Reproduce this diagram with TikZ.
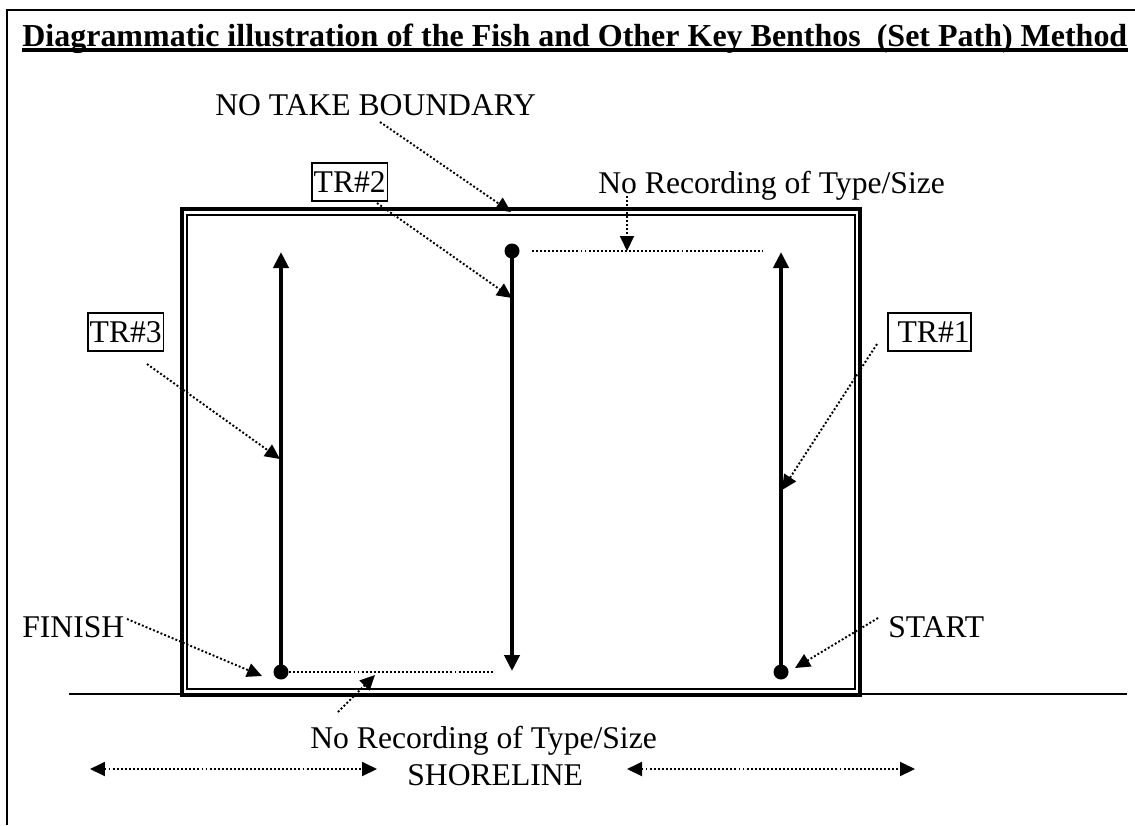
\documentclass[tikz,border=0pt]{standalone}
\usepackage{fontspec}
\setmainfont{Liberation Serif}
\usetikzlibrary{arrows.meta}

\begin{document}
\begin{tikzpicture}[x=0.02cm, y=-0.02cm, every node/.style={font=\fontsize{18}{21}\selectfont, inner sep=0pt}]
        \tikzstyle{lead} = [line width=1.1pt, dash pattern=on 1.1pt off 1.2pt, -{Triangle[length=0.3cm, width=0.28cm]}]
        \tikzstyle{span} = [line width=1.1pt, dash pattern=on 1.1pt off 1.2pt, {Triangle[length=0.3cm, width=0.28cm]}-{Triangle[length=0.3cm, width=0.28cm]}]
        \tikzstyle{gap} = [line width=1.1pt, dash pattern=on 1.1pt off 1.2pt]
        \tikzstyle{track} = [line width=2.3pt, -{Triangle[length=0.32cm, width=0.3cm]}]
        \tikzstyle{tag} = [draw, line width=1.1pt, inner sep=1pt, minimum height=0.76cm]
        \tikzstyle{spot} = [circle, fill, minimum size=0.3cm]
        \useasboundingbox (0,0) rectangle (1135,825);
        % frame and title
        \draw[line width=1.3pt] (7,825) -- (7,10) -- (1135,10);
        \node[anchor=base west, font=\fontsize{18.2}{21}\selectfont\bfseries] (title) at (22,46) {Diagrammatic illustration of the Fish and Other Key Benthos\ \ (Set Path) Method};
        \draw[line width=1.8pt] ([yshift=-0.08cm]title.base west) -- ([yshift=-0.08cm]title.base east);
        % no take area and shoreline
        \draw[line width=2pt] (182,209) rectangle (860,695);
        \draw[line width=1.1pt] (187,215) rectangle (855,689);
        \coordinate (shA) at (69,694);
        \coordinate (shB) at (182,694);
        \coordinate (shC) at (860,694);
        \coordinate (shD) at (1127,694);
        \draw[line width=1.3pt] (shA) -- (shB);
        \draw[line width=1.3pt] (shC) -- (shD);
        % transects
        \node[spot] (s3) at (281,672) {};
        \node[spot] (s2) at (512,251) {};
        \node[spot] (s1) at (781,672) {};
        \coordinate (e3) at (281,252);
        \coordinate (e2) at (512,671);
        \coordinate (e1) at (781,252);
        \draw[track] (s3.center) -- (e3);
        \draw[track] (s2.center) -- (e2);
        \draw[track] (s1.center) -- (e1);
        \coordinate (g1a) at (532,251);
        \coordinate (g1b) at (763,251);
        \coordinate (g2b) at (493,672);
        \draw[gap] (g1a) -- (g1b);
        \draw[gap] (s3.east) -- (g2b);
        % labels
        \node[tag, anchor=north west] (tr3) at (87,312) {TR\#3};
        \node[tag, anchor=north west] (tr2) at (311,162) {TR\#2};
        \node[tag, anchor=north west] (tr1) at (887,312) {\hspace*{0.25em}TR\#1};
        \node[anchor=base west] (notake) at (215,115) {NO TAKE BOUNDARY};
        \node[anchor=base west] (norecA) at (598,193) {No Recording of Type/Size};
        \node[anchor=base west] (norecB) at (310,748) {No Recording of Type/Size};
        \node[anchor=base west] (finish) at (22,637) {FINISH};
        \node[anchor=base west] (start) at (888,637) {START};
        \node[anchor=base west] (shore) at (407,785) {SHORELINE};
        % leaders
        \coordinate (p3) at (147,364);   \coordinate (h3) at (280,459);
        \coordinate (p2) at (377,203);   \coordinate (h2) at (512,298);
        \coordinate (p1) at (877,344);   \coordinate (h1) at (782,490);
        \coordinate (pf) at (127,619);   \coordinate (hf) at (262,676);
        \coordinate (ps) at (878,618);   \coordinate (hs) at (795,668);
        \coordinate (pn) at (380,122);   \coordinate (hn) at (511,212);
        \coordinate (pa) at (627,196);   \coordinate (ha) at (627,251);
        \coordinate (pb) at (338,712);   \coordinate (hb) at (375,675);
        \draw[lead] (p3) -- (h3);
        \draw[lead] (p2) -- (h2);
        \draw[lead] (p1) -- (h1);
        \draw[lead] (pf) -- (hf);
        \draw[lead] (ps) -- (hs);
        \draw[lead] (pn) -- (hn);
        \draw[lead] (pa) -- (ha);
        \draw[lead] (pb) -- (hb);
        \coordinate (wL1) at (90,769);   \coordinate (wL2) at (377,769);
        \coordinate (wR1) at (627,769);  \coordinate (wR2) at (915,769);
        \draw[span] (wL1) -- (wL2);
        \draw[span] (wR1) -- (wR2);
\end{tikzpicture}
\end{document}
